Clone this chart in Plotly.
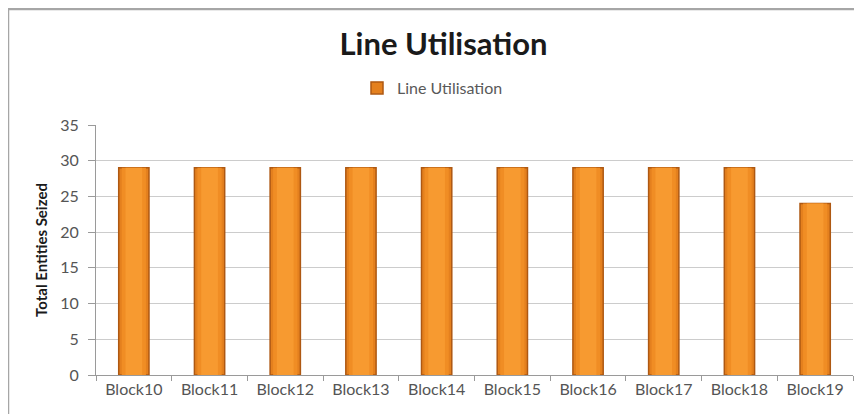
import plotly.graph_objects as go

blocks = ["Block10", "Block11", "Block12", "Block13", "Block14",
          "Block15", "Block16", "Block17", "Block18", "Block19"]
entities_seized = [29, 29, 29, 29, 29, 29, 29, 29, 29, 24]

FONT = "Lato, 'Open Sans', sans-serif"

fig = go.Figure()
# layered bars to imitate the shaded cylinder look
fig.add_trace(go.Bar(x=blocks, y=entities_seized, width=0.40, name="Line Utilisation",
                     marker=dict(color="#E4801E", line=dict(color="#AE5812", width=1.5)),
                     showlegend=True))
fig.add_trace(go.Bar(x=blocks, y=entities_seized, width=0.32, marker_color="#F08D24",
                     marker_line_width=0, showlegend=False, hoverinfo="skip"))
fig.add_trace(go.Bar(x=blocks, y=entities_seized, width=0.22, marker_color="#F79A30",
                     marker_line_width=0, showlegend=False, hoverinfo="skip"))

fig.update_layout(
    width=854, height=406,
    barmode="overlay",
    paper_bgcolor="white", plot_bgcolor="white",
    margin=dict(l=88, r=9, t=117, b=39),
    font=dict(family=FONT, color="#595959", size=15),
    title=dict(text="<b>Line Utilisation</b>", x=0.51, xanchor="center",
               y=0.911, yanchor="middle",
               font=dict(family=FONT, size=31, color="#1a1a1a")),
    legend=dict(orientation="h", x=(357 - 96) / 757, xref="paper", xanchor="left",
                y=1.148, yanchor="middle", font=dict(size=16, color="#595959"),
                itemwidth=30),
    showlegend=True,
    xaxis=dict(showline=True, linecolor="#9a9a9a", linewidth=1,
               ticks="outside", tickson="boundaries", ticklen=5, tickcolor="#9a9a9a",
               tickfont=dict(size=16, color="#555555")),
    yaxis=dict(range=[0, 35], dtick=5, showline=True, linecolor="#9a9a9a", linewidth=1,
               gridcolor="#cccccc", gridwidth=1, ticks="outside", ticklen=7,
               tickcolor="#9a9a9a", zeroline=False, ticklabelstandoff=6,
               tickfont=dict(size=16, color="#555555"),
               title=dict(text="<b>Total Entities Seized</b>", standoff=8,
                          font=dict(size=15, color="#1a1a1a"))),
)

# outer chart frame
fig.add_shape(type="rect", xref="paper", yref="paper",
              x0=-88 / 757, x1=1.03, y0=-0.3, y1=1 + 116 / 250,
              line=dict(color="#a6a6a6", width=2.5), layer="below")

fig.write_html("out.html")
